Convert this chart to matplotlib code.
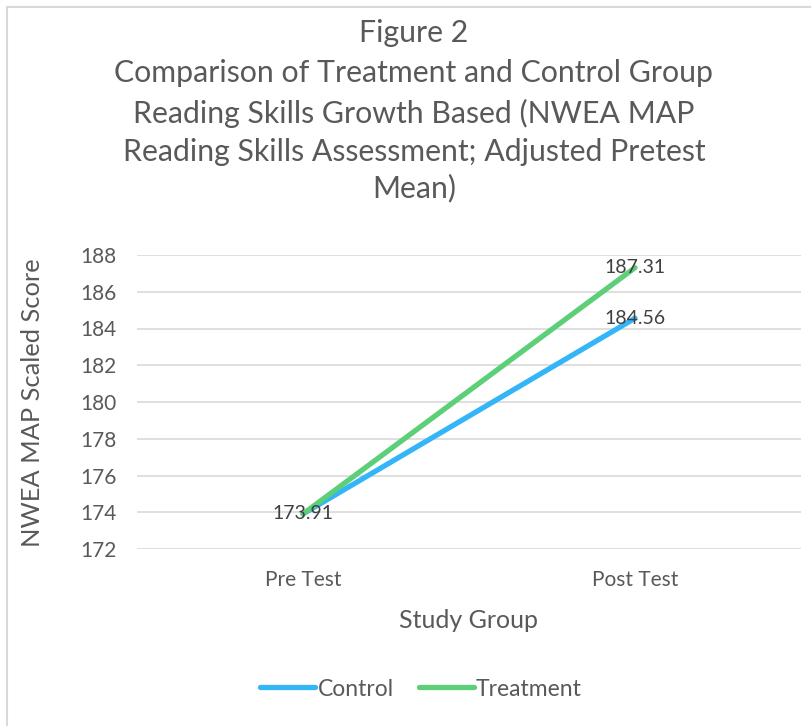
import matplotlib.pyplot as plt
from matplotlib.lines import Line2D

plt.rcParams['font.family'] = ['Lato', 'DejaVu Sans']

# datos
categorias = ['Pre Test', 'Post Test']
control = [173.91, 184.56]
tratamiento = [173.91, 187.31]
y_ticks = [172, 174, 176, 178, 180, 182, 184, 186, 188]

azul = '#33B5F7'
verde = '#5CCF78'
gris_texto = '#595959'

fig = plt.figure(figsize=(8.12, 7.26), dpi=100)
ax = fig.add_axes([137 / 812, 1 - 549 / 726, (801 - 137) / 812, (549 - 255) / 726])

x = list(range(len(categorias)))
ax.plot(x, control, color=azul, lw=3.8, solid_capstyle='round', label='Control')
ax.plot(x, tratamiento, color=verde, lw=3.8, solid_capstyle='round', label='Treatment')

# etiquetas de datos
for xi, v in zip(x, control):
    ax.text(xi, v, f'{v:.2f}', ha='center', va='center', fontsize=14, color='#404040')
ax.text(x[1], tratamiento[1], f'{tratamiento[1]:.2f}', ha='center', va='center',
        fontsize=14, color='#404040')

ax.set_xlim(-0.5, 1.5)
ax.set_ylim(172, 188)
ax.set_yticks(y_ticks)
ax.set_xticks(x)
ax.set_xticklabels(categorias)
ax.tick_params(length=0, labelsize=15, colors=gris_texto)
ax.tick_params(axis='y', pad=15)
ax.tick_params(axis='x', pad=15)
ax.grid(axis='y', color='#D9D9D9', lw=1.2)
ax.set_axisbelow(True)
for s in ax.spines.values():
    s.set_visible(False)

fig.text(33 / 812, 1 - 403 / 726, 'NWEA MAP Scaled Score', rotation=90, ha='center',
         va='center', fontsize=18.3, color=gris_texto)
fig.text(469 / 812, 1 - 620 / 726, 'Study Group', ha='center', va='center',
         fontsize=18, color=gris_texto)

titulo = ['Figure 2',
          'Comparison of Treatment and Control Group',
          'Reading Skills Growth Based (NWEA MAP',
          'Reading Skills Assessment; Adjusted Pretest',
          'Mean)']
y_titulo = [33, 73, 113, 152, 188]
for linea, yt in zip(titulo, y_titulo):
    fig.text(414 / 812, 1 - yt / 726, linea, ha='center', va='center', fontsize=21.8,
             color=gris_texto)

handles = [Line2D([], [], color=azul, lw=3.8, solid_capstyle='round'),
           Line2D([], [], color=verde, lw=3.8, solid_capstyle='round')]
fig.legend(handles, ['Control', 'Treatment'], loc='center', bbox_to_anchor=(421 / 812, 1 - 689 / 726),
           ncol=2, frameon=False, fontsize=16.5, handlelength=2.4, handletextpad=0.1,
           columnspacing=1.1, labelcolor=gris_texto)

# borde del gráfico (arriba e izquierda)
fig.add_artist(Line2D([7 / 812, 7 / 812], [0, 1 - 7 / 726], color='#D9D9D9', lw=1.5))
fig.add_artist(Line2D([7 / 812, 1], [1 - 7 / 726, 1 - 7 / 726], color='#D9D9D9', lw=1.5))

fig.savefig('out.png', dpi=100)
